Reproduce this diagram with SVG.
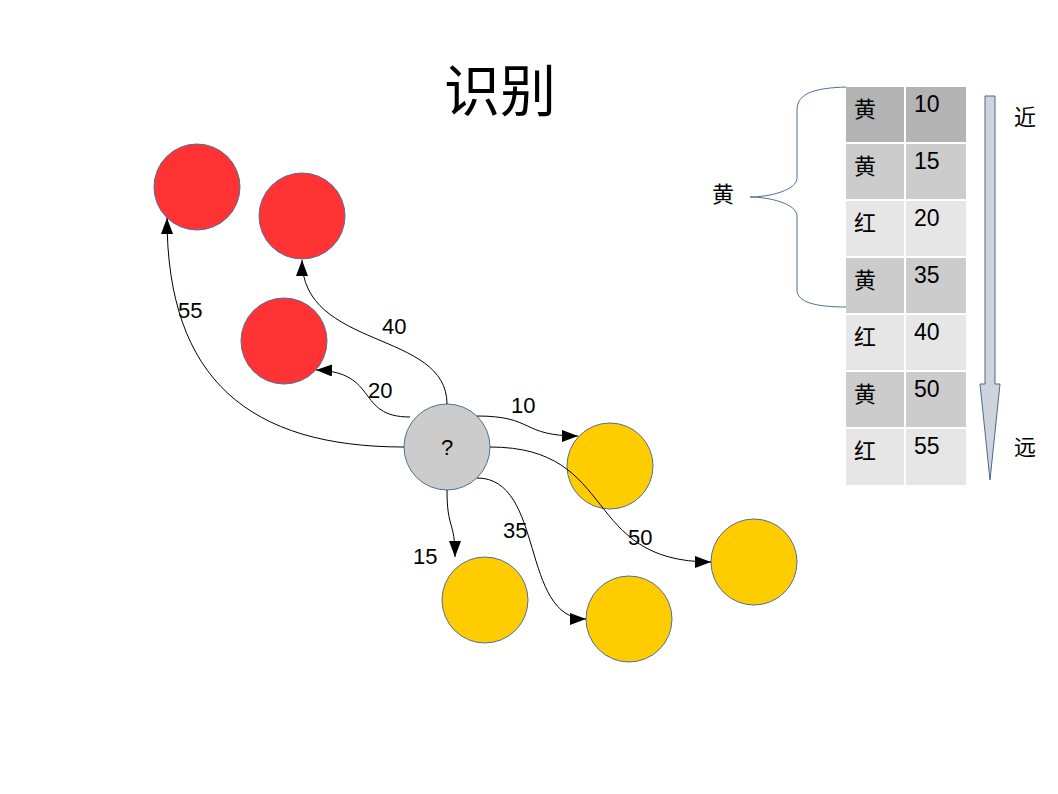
<svg xmlns="http://www.w3.org/2000/svg" width="1058" height="794" viewBox="0 0 1058 794">
<style>
.n{stroke:#4f6f94;stroke-width:1}
.red{fill:#ff3333}.yel{fill:#ffcc00}.gry{fill:#cccccc}
.t{font-family:"Liberation Sans","Noto Sans CJK SC",sans-serif;font-size:22px;fill:#000}
.tn{font-family:"Liberation Sans",sans-serif;font-size:23px;fill:#000}
.c{font-family:"Noto Sans CJK SC",sans-serif;font-size:22px;fill:#000}
.e{fill:none;stroke:#000;stroke-width:1}
</style>
<defs>
<marker id="ah" viewBox="0 0 16 12" refX="16" refY="6" markerWidth="16" markerHeight="12" markerUnits="userSpaceOnUse" orient="auto">
<path d="M0,0 L16,6 L0,12 Z" fill="#000"/>
</marker>
</defs>
<rect width="1058" height="794" fill="#fff"/>
<text x="500" y="111" text-anchor="middle" font-family="Noto Sans CJK SC,sans-serif" font-size="56">识别</text>

<g id="red1"><circle class="n red" cx="197" cy="187" r="43"/></g>
<g id="red2"><circle class="n red" cx="302" cy="216" r="43"/></g>
<g id="red3"><circle class="n red" cx="284" cy="341" r="43"/></g>
<g id="query"><circle class="n gry" cx="447" cy="447" r="43"/><text class="t" x="447" y="455" text-anchor="middle" font-size="20">?</text></g>
<g id="yel1"><circle class="n yel" cx="610" cy="466" r="43"/></g>
<g id="yel2"><circle class="n yel" cx="485" cy="600" r="43"/></g>
<g id="yel3"><circle class="n yel" cx="629" cy="619" r="43"/></g>
<g id="yel4"><circle class="n yel" cx="754" cy="562" r="43"/></g>

<g id="connectors">
<path class="e" d="M404,447 C250,447 167,380 167,218" marker-end="url(#ah)"/>
<path class="e" d="M447,404 C447,330 302,350 302,260" marker-end="url(#ah)"/>
<path class="e" d="M410,417 C355,417 380,372 316,370" marker-end="url(#ah)"/>
<path class="e" d="M477,416 C535,416 520,436 578,436" marker-end="url(#ah)"/>
<path class="e" d="M490,447 C620,447 580,562 711,562" marker-end="url(#ah)"/>
<path class="e" d="M447,490 C447,530 455,520 455,557" marker-end="url(#ah)"/>
<path class="e" d="M477,478 C545,478 520,619 586,619" marker-end="url(#ah)"/>
<text class="t" x="178" y="318">55</text>
<text class="t" x="382" y="334">40</text>
<text class="t" x="368" y="398">20</text>
<text class="t" x="511" y="413">10</text>
<text class="t" x="628" y="545">50</text>
<text class="t" x="413" y="564">15</text>
<text class="t" x="503" y="538">35</text>
</g>

<g id="table">
<rect x="846" y="87" width="58" height="55" fill="#b3b3b3"/><rect x="906" y="87" width="60" height="55" fill="#b3b3b3"/>
<rect x="846" y="144" width="58" height="55" fill="#cccccc"/><rect x="906" y="144" width="60" height="55" fill="#cccccc"/>
<rect x="846" y="201" width="58" height="55" fill="#e6e6e6"/><rect x="906" y="201" width="60" height="55" fill="#e6e6e6"/>
<rect x="846" y="258" width="58" height="55" fill="#cccccc"/><rect x="906" y="258" width="60" height="55" fill="#cccccc"/>
<rect x="846" y="315" width="58" height="55" fill="#e6e6e6"/><rect x="906" y="315" width="60" height="55" fill="#e6e6e6"/>
<rect x="846" y="372" width="58" height="55" fill="#cccccc"/><rect x="906" y="372" width="60" height="55" fill="#cccccc"/>
<rect x="846" y="429" width="58" height="56" fill="#e6e6e6"/><rect x="906" y="429" width="60" height="56" fill="#e6e6e6"/>
<g class="c">
<text x="854" y="117">黄</text><text x="854" y="174">黄</text><text x="854" y="231">红</text><text x="854" y="288">黄</text>
<text x="854" y="345">红</text><text x="854" y="402">黄</text><text x="854" y="459">红</text>
</g>
<g class="tn">
<text x="914" y="112">10</text><text x="914" y="169">15</text><text x="914" y="226">20</text><text x="914" y="283">35</text>
<text x="914" y="340">40</text><text x="914" y="397">50</text><text x="914" y="454">55</text>
</g>
</g>

<g id="brace">
<path d="M846,87 C815,88 797,93 797,110 L797,178 C797,190 770,197 750,197 C770,197 797,204 797,216 L797,290 C797,302 815,307 846,307" fill="none" stroke="#4f6f94" stroke-width="1"/>
<text class="c" x="712" y="202">黄</text>
</g>

<g id="arrow">
<path d="M985,96 L995,96 L995,384 L1000,384 L990,480 L980,384 L985,384 Z" fill="#cfd4dc" stroke="#4a6a8c" stroke-width="1"/>
<text class="c" x="1014" y="125">近</text>
<text class="c" x="1014" y="455">远</text>
</g>
</svg>
